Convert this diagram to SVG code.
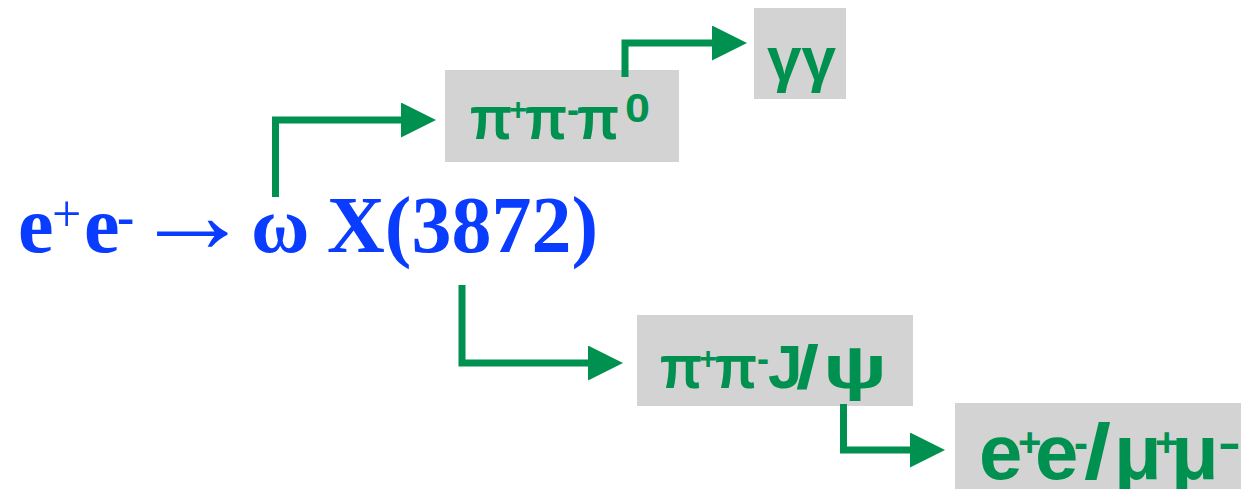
<svg xmlns="http://www.w3.org/2000/svg" width="1241" height="489" viewBox="0 0 1241 489">
  <style>
    .box { fill: #d3d3d3; }
    .main { font-family: "Liberation Serif", "Times New Roman", serif; font-weight: bold; fill: #0a3cff; }
    .lbl { font-family: "Liberation Sans", Arial, sans-serif; font-weight: bold; fill: #009150; }
    .wire { fill: none; stroke: #009150; stroke-width: 7; stroke-linejoin: miter; stroke-linecap: butt; }
  </style>
  <defs>
    <marker id="head" markerUnits="userSpaceOnUse" viewBox="0 0 35 35" markerWidth="35" markerHeight="35" refX="0" refY="17.5" orient="auto">
      <path d="M0,0 L35,17.5 L0,35 Z" fill="#009150"/>
    </marker>
  </defs>

  <rect width="1241" height="489" fill="#ffffff"/>

  <!-- reaction: e+e- -> omega X(3872) -->
  <g id="reaction" class="main">
    <text x="18" y="252" font-size="80">e</text>
    <text x="52" y="231" font-size="52" font-weight="normal">+</text>
    <text x="84" y="252" font-size="80">e</text>
    <text x="117" y="234" font-size="52">-</text>
    <text x="133" y="252" font-size="110" font-weight="normal" textLength="119" lengthAdjust="spacingAndGlyphs">→</text>
    <text x="251" y="252" font-size="80">ω</text>
    <text x="327" y="252" font-size="80">X(3872)</text>
  </g>

  <!-- decay products -->
  <g id="pipipi0">
    <rect class="box" x="445" y="70" width="234" height="92"/>
    <g class="lbl">
      <text x="470" y="139" font-size="62" textLength="42" lengthAdjust="spacingAndGlyphs">π</text>
      <text x="509" y="120" font-size="31">+</text>
      <text x="525" y="139" font-size="62" textLength="42" lengthAdjust="spacingAndGlyphs">π</text>
      <text x="567" y="122" font-size="36">-</text>
      <text x="577" y="139" font-size="62" textLength="42" lengthAdjust="spacingAndGlyphs">π</text>
      <text x="625" y="122" font-size="41" textLength="25" lengthAdjust="spacingAndGlyphs">0</text>
    </g>
  </g>

  <g id="gammagamma">
    <rect class="box" x="754" y="8" width="92" height="91"/>
    <text class="lbl" x="767" y="80" font-size="62">γγ</text>
  </g>

  <g id="pipijpsi">
    <rect class="box" x="637" y="315" width="276" height="91"/>
    <g class="lbl">
      <text x="660" y="388" font-size="62" textLength="42" lengthAdjust="spacingAndGlyphs">π</text>
      <text x="699" y="369" font-size="31">+</text>
      <text x="715" y="388" font-size="62" textLength="42" lengthAdjust="spacingAndGlyphs">π</text>
      <text x="757" y="371" font-size="36">-</text>
      <text x="768" y="388" font-size="62">J</text>
      <text x="796" y="388" font-size="62" textLength="23" lengthAdjust="spacingAndGlyphs">/</text>
      <text x="823" y="388" font-size="62" textLength="64" lengthAdjust="spacingAndGlyphs">ψ</text>
    </g>
  </g>

  <g id="leptons">
    <rect class="box" x="955" y="403" width="290" height="86"/>
    <g class="lbl">
      <text x="979" y="479" font-size="78">e</text>
      <text x="1018" y="456" font-size="40">+</text>
      <text x="1035" y="479" font-size="78">e</text>
      <text x="1074" y="458" font-size="45" textLength="14" lengthAdjust="spacingAndGlyphs">-</text>
      <text x="1084" y="479" font-size="78" textLength="27" lengthAdjust="spacingAndGlyphs">/</text>
      <text x="1114" y="479" font-size="78">μ</text>
      <text x="1155" y="456" font-size="40">+</text>
      <text x="1171" y="479" font-size="78">μ</text>
      <text x="1218" y="458" font-size="45" textLength="23" lengthAdjust="spacingAndGlyphs">-</text>
    </g>
  </g>

  <!-- connectors -->
  <g id="connectors">
    <polyline class="wire" points="275.5,197 275.5,120 401,120" marker-end="url(#head)"/>
    <polyline class="wire" points="625,77 625,43 712,43" marker-end="url(#head)"/>
    <polyline class="wire" points="462,285 462,363 588,363" marker-end="url(#head)"/>
    <polyline class="wire" points="843.5,404 843.5,450 910,450" marker-end="url(#head)"/>
  </g>
</svg>
